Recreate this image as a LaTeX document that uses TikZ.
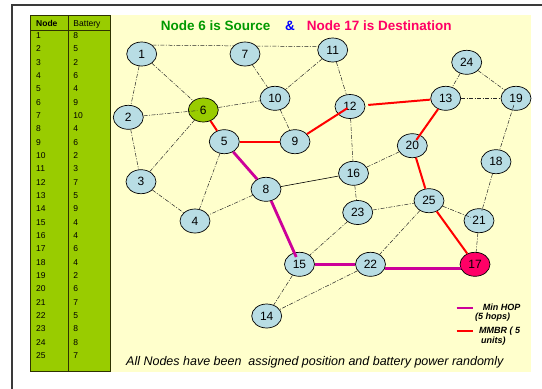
\documentclass[tikz,border=0pt]{standalone}
\usepackage{fontspec}
\setmainfont{Liberation Sans}
\usetikzlibrary{shapes.geometric,backgrounds}

\definecolor{paper}{HTML}{FFFFCC}
\definecolor{tablegreen}{HTML}{99CC00}
\definecolor{tableline}{HTML}{2E3300}
\definecolor{moteblue}{HTML}{B8DDE4}
\definecolor{dstpink}{HTML}{FF0066}
\definecolor{hopmag}{HTML}{CC0099}
\definecolor{titlegreen}{HTML}{009900}
\definecolor{framegray}{HTML}{3A3A3A}

\tikzset{
  mote/.style={ellipse, draw=black, line width=0.7pt, fill=moteblue,
    minimum width=30pt, minimum height=24pt, inner sep=0pt,
    font=\fontsize{12}{12}\selectfont},
  srcmote/.style={mote, fill=tablegreen},
  dstmote/.style={mote, fill=dstpink},
  link/.style={draw=black!85, line width=0.5pt,
    dash pattern=on 4pt off 1.5pt on 1pt off 1.5pt},
  solidlink/.style={draw=black, line width=0.6pt},
  mmbr/.style={draw=red, line width=2pt},
  minhop/.style={draw=hopmag, line width=2.8pt},
  celltext/.style={anchor=base west, inner sep=0pt, font=\fontsize{8.5}{8.5}\selectfont},
  headtext/.style={celltext, font=\fontsize{8.5}{8.5}\selectfont\bfseries},
  titletext/.style={anchor=base west, inner sep=0pt, font=\fontsize{13.5}{13.5}\selectfont\bfseries},
  legendtext/.style={anchor=north west, inner sep=0pt, align=left,
    font=\fontsize{9}{9.5}\selectfont\bfseries\itshape},
}

\begin{document}
\begin{tikzpicture}[x=1pt, y=-1pt]
\useasboundingbox (0,0) rectangle (542,389);

% sensor nodes
\node[mote]    (n1)  at (141.7, 54)   {1};
\node[mote]    (n2)  at (128.3,117.3) {2};
\node[mote]    (n3)  at (141,  181.7) {3};
\node[mote]    (n4)  at (195,  221)   {4};
\node[mote]    (n5)  at (224.3,141.7) {5};
\node[srcmote] (n6)  at (203.3,110)   {6};
\node[mote]    (n7)  at (245,   54)   {7};
\node[mote]    (n8)  at (266,  189.3) {8};
\node[mote]    (n9)  at (295,  141.7) {9};
\node[mote]    (n10) at (275,   98.3) {10};
\node[mote]    (n11) at (332.7, 50)   {11};
\node[mote]    (n12) at (350,  106.5) {12};
\node[mote]    (n13) at (445.7, 98.3) {13};
\node[mote]    (n14) at (266.7,316)   {14};
\node[mote]    (n15) at (299.5,264.3) {15};
\node[mote]    (n16) at (353.5,173.3) {16};
\node[dstmote] (n17) at (475,  264.3) {17};
\node[mote]    (n18) at (496,  161.7) {18};
\node[mote]    (n19) at (516,   98.3) {19};
\node[mote]    (n20) at (412.3,145.7) {20};
\node[mote]    (n21) at (479,  220.7) {21};
\node[mote]    (n22) at (370.5,264.3) {22};
\node[mote]    (n23) at (357.7,212.5) {23};
\node[mote]    (n24) at (466.7, 62.3) {24};
\node[mote]    (n25) at (429,  200.7) {25};

\begin{pgfonlayer}{background}
  % page frame and field
  \draw[framegray, line width=1.5pt] (12,389) -- (12,5) -- (542,5);
  \fill[paper] (30,15) rectangle (530.7,371.7);

  % battery table
  \draw[tableline, line width=1pt, fill=tablegreen] (30,15) rectangle (110,371.7);
  \draw[tableline, line width=1pt] (30,30) -- (110,30);
  \draw[tableline, line width=1pt] (68.3,15) -- (68.3,371.7);

  % radio links
  \draw[link] (n1.40) -- (n11.167);
  \draw[link] (n1) -- (n2);
  \draw[link] (n1) -- (n6);
  \draw[link] (n7) -- (n10);
  \draw[link] (n11) -- (n10);
  \draw[link] (n11) -- (n12);
  \draw[link] (n6) -- (n10);
  \draw[link] (n10) -- (n9);
  \draw[link] (n6) -- (n3);
  \draw[link] (n2) -- (n3);
  \draw[link] (n3) -- (n4);
  \draw[link] (n5) -- (n4);
  \draw[link] (n8) -- (n4);
  \draw[link] (n12) -- (n16);
  \draw[link] (n16) -- (n20);
  \draw[link] (n16) -- (n23);
  \draw[link] (n23) -- (n25);
  \draw[link] (n23) -- (n15);
  \draw[link] (n25) -- (n22);
  \draw[link] (n21) -- (n17);
  \draw[link] (n24) -- (n13);
  \draw[link] (n24) -- (n19);
  \draw[link] (n13) -- (n19);
  \draw[link] (n15) -- (n14);
  \draw[link] (n22) -- (n14);
  \draw[solidlink] (n8) -- (n16);
\end{pgfonlayer}

% links that run into the node ellipses
\draw[link, shorten >=6pt] (n2) -- (n6.center);
\draw[link, shorten >=9pt] (n18) -- (n21.center);
\draw[link, shorten >=9pt] (n25) -- (n21.center);
\draw[link, shorten <=7pt] (n19.center) -- (n18);

% MMBR route
\draw[mmbr] (n6) -- (n5);
\draw[mmbr] (n5) -- (n9);
\draw[mmbr, shorten >=3pt] (n9) -- (n12.center);
\draw[mmbr, shorten <=3pt] (n12) -- (n13);
\draw[mmbr, shorten >=7pt] (n13) -- (n20.center);
\draw[mmbr] (n20) -- (n25);
\draw[mmbr] (n25) -- (n17);

% minimum hop route
\draw[minhop] (n5) -- (n8);
\draw[minhop, shorten >=8pt] (n8) -- (n15.center);
\draw[minhop] (n15) -- (n22);
\draw[minhop] (n22.-17) -- (n17.197);

% table contents
\node[headtext]  (hnode) at (36,26.7)   {Node};
\node[celltext]  (hbat)  at (73.3,26.7) {Battery};
\foreach \k/\b in {1/8,2/5,3/2,4/6,5/4,6/9,7/10,8/4,9/6,10/2,11/3,12/7,13/5,
                   14/9,15/4,16/4,17/6,18/4,19/2,20/6,21/7,22/5,23/8,24/8,25/7}{
  \node[celltext] (id\k)  at (36,   {38.5+(\k-1)*13.33}) {\k};
  \node[celltext] (bat\k) at (73.3, {38.5+(\k-1)*13.33}) {\b};
}

% heading
\node[titletext, text=titlegreen] (src)  at (160.7,30.5) {Node 6 is Source};
\node[titletext, text=blue]       (amp)  at (285,30.5)   {\&};
\node[titletext, text=dstpink]    (dst)  at (306.7,30.5) {Node 17 is Destination};

% legend
\coordinate (hopA) at (456.7,307.7);
\coordinate (hopB) at (472.7,307.7);
\coordinate (mmA)  at (456.7,331);
\coordinate (mmB)  at (472.7,331);
\draw[draw=hopmag, line width=2pt] (hopA) -- (hopB);
\draw[draw=red, line width=2.7pt] (mmA) -- (mmB);
\node[legendtext] (hoplabel) at (475,303.6) {\hspace*{7.7pt}Min HOP\\(5 hops)};
\node[legendtext] (mmlabel)  at (479,326.9) {MMBR ( 5\\\hspace*{2pt}units)};

% footnote
\node[anchor=base west, inner sep=0pt, font=\fontsize{12.5}{12.5}\selectfont\itshape]
  (note) at (126,365.2) {All Nodes have been\ \ assigned position and battery power randomly};
\end{tikzpicture}
\end{document}
